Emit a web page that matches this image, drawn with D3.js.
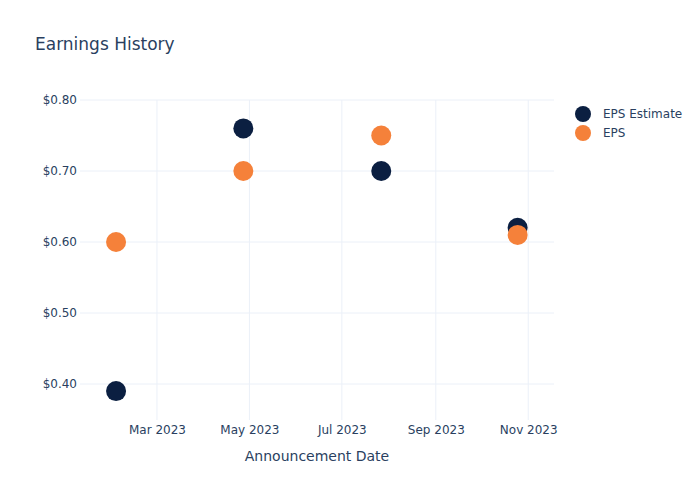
<!DOCTYPE html>
<html>
<head>
<meta charset="utf-8">
<script src="https://cdn.jsdelivr.net/npm/d3@7"></script>
<style>
  body { margin: 0; background: #fff; }
  text { font-family: "DejaVu Sans", Verdana, sans-serif; fill: #2a3f5f; }
</style>
</head>
<body>
<div id="chart"></div>
<script>
// announcement dates and eps values
var dates = ["2023-02-02", "2023-04-27", "2023-07-27", "2023-10-25"];
var epsEstimate = [0.39, 0.76, 0.70, 0.62];
var epsActual = [0.60, 0.70, 0.75, 0.61];
var yTicks = [0.40, 0.50, 0.60, 0.70, 0.80];
var seriesNames = ["EPS Estimate", "EPS"];
var seriesColors = ["#0b1f41", "#f5813a"];

var width = 700, height = 500;
var margin = { top: 100, right: 146, bottom: 80, left: 80 };
var parse = d3.timeParse("%Y-%m-%d");

var svg = d3.select("#chart").append("svg")
    .attr("width", width)
    .attr("height", height);

var x = d3.scaleTime()
    .domain([new Date(2023, 0, 9, 5), new Date(2023, 10, 18)])
    .range([margin.left, width - margin.right]);

var y = d3.scaleLinear()
    .domain([0.3493, 0.80])
    .range([height - margin.bottom, margin.top]);

// grid lines
var xTicks = [2, 4, 6, 8, 10].map(function(m) { return new Date(2023, m, 1); });

svg.append("g").selectAll("line.vg")
    .data(xTicks)
    .enter().append("line")
    .attr("x1", function(d) { return x(d); })
    .attr("x2", function(d) { return x(d); })
    .attr("y1", margin.top)
    .attr("y2", height - margin.bottom)
    .attr("stroke", "#ebf0f8")
    .attr("stroke-width", 1);

svg.append("g").selectAll("line.hg")
    .data(yTicks)
    .enter().append("line")
    .attr("x1", margin.left)
    .attr("x2", width - margin.right)
    .attr("y1", function(d) { return y(d); })
    .attr("y2", function(d) { return y(d); })
    .attr("stroke", "#ebf0f8")
    .attr("stroke-width", 1);

// axes (labels only)
var xAxis = svg.append("g")
    .attr("transform", "translate(0," + (height - margin.bottom) + ")")
    .call(d3.axisBottom(x).tickValues(xTicks).tickFormat(d3.timeFormat("%b %Y")).tickSize(0).tickPadding(5));
xAxis.select(".domain").remove();
xAxis.selectAll("text").attr("font-size", 12).attr("font-family", "DejaVu Sans, sans-serif").attr("fill", "#2a3f5f");

var yAxis = svg.append("g")
    .attr("transform", "translate(" + margin.left + ",0)")
    .call(d3.axisLeft(y).tickValues(yTicks).tickFormat(d3.format("$.2f")).tickSize(0).tickPadding(3));
yAxis.select(".domain").remove();
yAxis.selectAll("text").attr("font-size", 12).attr("font-family", "DejaVu Sans, sans-serif").attr("fill", "#2a3f5f");

// points
var series = [epsEstimate, epsActual];
series.forEach(function(vals, s) {
    svg.append("g").selectAll("circle")
        .data(vals)
        .enter().append("circle")
        .attr("cx", function(d, i) { return x(parse(dates[i])); })
        .attr("cy", function(d) { return y(d); })
        .attr("r", 10)
        .attr("fill", seriesColors[s]);
});

// title
svg.append("text")
    .attr("x", 35)
    .attr("y", 50)
    .attr("font-size", 17)
    .text("Earnings History");

svg.append("text")
    .attr("x", (margin.left + width - margin.right) / 2)
    .attr("y", 461)
    .attr("text-anchor", "middle")
    .attr("font-size", 14)
    .text("Announcement Date");

// legend
var legend = svg.append("g");
seriesNames.forEach(function(name, i) {
    legend.append("circle")
        .attr("cx", 583)
        .attr("cy", 114 + i * 19)
        .attr("r", 8)
        .attr("fill", seriesColors[i]);
    legend.append("text")
        .attr("x", 603)
        .attr("y", 118 + i * 19)
        .attr("font-size", 12)
        .text(name);
});
</script>
</body>
</html>
